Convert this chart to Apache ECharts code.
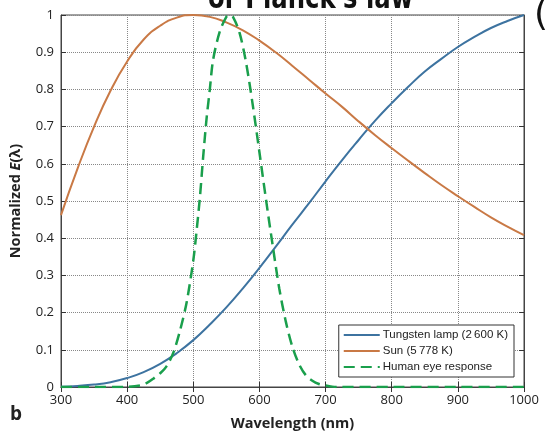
<!DOCTYPE html>
<html>
<head>
<meta charset="utf-8">
<script src="https://cdn.jsdelivr.net/npm/echarts@6/dist/echarts.min.js"></script>
<style>
  html, body { margin: 0; padding: 0; background: #fff; }
  #chart { width: 547px; height: 440px; }
</style>
</head>
<body>
<div id="chart"></div>
<script>
const chart = echarts.init(document.getElementById("chart"));

// wavelength samples (nm) for the two black-body curves
const wavelengths = [300, 325, 350, 375, 400, 425, 450, 475, 500, 525, 550, 575, 600, 625, 650,
  675, 700, 725, 750, 775, 800, 825, 850, 875, 900, 925, 950, 975, 1000];
const tungsten = [0.001, 0.003, 0.0065, 0.013, 0.024, 0.040, 0.062, 0.091, 0.126, 0.168, 0.214,
  0.265, 0.320, 0.378, 0.437, 0.494, 0.553, 0.610, 0.664, 0.716, 0.763, 0.807, 0.848, 0.882,
  0.914, 0.941, 0.965, 0.984, 1.0];
const sun = [0.462, 0.587, 0.700, 0.797, 0.875, 0.934, 0.971, 0.993, 1.0, 0.995, 0.980, 0.959,
  0.931, 0.899, 0.863, 0.826, 0.789, 0.753, 0.714, 0.677, 0.642, 0.608, 0.575, 0.543, 0.513,
  0.484, 0.456, 0.431, 0.408];

// human eye response
const eyeWavelengths = [300, 350, 400, 420, 430, 440, 450, 460, 470, 480, 490, 500, 505, 510, 515,
  520, 525, 530, 540, 550, 555, 560, 570, 580, 590, 600, 610, 620, 630, 640, 650, 660, 670, 680,
  690, 700, 710, 720, 800, 900, 1000];
const eye = [0, 0, 0.0005, 0.004, 0.011, 0.023, 0.037, 0.057, 0.093, 0.152, 0.228, 0.34, 0.42,
  0.51, 0.62, 0.72, 0.80, 0.88, 0.955, 0.995, 1.0, 0.995, 0.952, 0.870, 0.757, 0.631, 0.503,
  0.381, 0.265, 0.175, 0.107, 0.061, 0.032, 0.017, 0.008, 0.004, 0.001, 0, 0, 0, 0];

const seriesNames = ["Tungsten lamp (2\u2009600 K)", "Sun (5\u2009778 K)", "Human eye response"];

const pairs = (xs, ys) => xs.map((x, i) => [x, ys[i]]);

const tickFont = { fontFamily: "Open Sans", fontSize: 13, color: "#222" };

chart.setOption({
  animation: false,
  grid: { left: 59, right: 23, top: 15, bottom: 53, show: true, borderColor: "#444", borderWidth: 1 },
  legend: {
    orient: "vertical",
    right: 33,
    bottom: 63,
    itemWidth: 36,
    itemHeight: 12,
    itemGap: 4,
    padding: [4, 6, 4, 4],
    backgroundColor: "#fff",
    borderColor: "#333",
    borderWidth: 1,
    itemStyle: { opacity: 0 },
    textStyle: { fontFamily: "Liberation Sans", fontSize: 11.5, color: "#222", padding: [0, 0, 0, -2] },
    data: seriesNames
  },
  xAxis: [{
    type: "value",
    min: 300, max: 1000, interval: 100,
    name: "Wavelength (nm)",
    nameLocation: "middle",
    nameGap: 29,
    nameTextStyle: { fontFamily: "Open Sans", fontSize: 14.5, fontWeight: "bold", color: "#222" },
    axisLine: { lineStyle: { color: "#444" } },
    axisTick: { inside: true, length: 5, lineStyle: { color: "#333" } },
    axisLabel: Object.assign({ margin: 7, formatter: v => String(v) }, tickFont),
    splitLine: { show: true, lineStyle: { type: "dotted", color: "#888" } }
  }, {
    type: "value",
    position: "top",
    min: 300, max: 1000, interval: 100,
    axisLine: { lineStyle: { color: "#444" } },
    axisTick: { inside: true, length: 5, lineStyle: { color: "#333" } },
    axisLabel: { show: false },
    splitLine: { show: false }
  }],
  yAxis: [{
    type: "value",
    min: 0, max: 1, interval: 0.1,
    name: "Normalized {i|E}(\u03bb)",
    nameLocation: "middle",
    nameGap: 38,
    nameTextStyle: {
      fontFamily: "Open Sans", fontSize: 14.5, fontWeight: "bold", color: "#222",
      rich: { i: { fontFamily: "Open Sans", fontSize: 14.5, fontWeight: "bold", fontStyle: "italic", color: "#222" } }
    },
    axisLine: { show: true, lineStyle: { color: "#444" } },
    axisTick: { inside: true, length: 5, lineStyle: { color: "#333" } },
    axisLabel: Object.assign({ margin: 7 }, tickFont),
    splitLine: { show: true, lineStyle: { type: "dotted", color: "#888" } }
  }, {
    type: "value",
    position: "right",
    min: 0, max: 1, interval: 0.1,
    axisLine: { show: true, lineStyle: { color: "#444" } },
    axisTick: { show: true, inside: true, length: 5, lineStyle: { color: "#333" } },
    axisLabel: { show: false },
    splitLine: { show: false }
  }],
  series: [{
    name: seriesNames[0],
    type: "line",
    smooth: true,
    symbol: "none",
    data: pairs(wavelengths, tungsten),
    lineStyle: { color: "#3d73a0", width: 2 },
    itemStyle: { color: "#3d73a0" }
  }, {
    name: seriesNames[1],
    type: "line",
    smooth: true,
    symbol: "none",
    data: pairs(wavelengths, sun),
    lineStyle: { color: "#c97945", width: 2 },
    itemStyle: { color: "#c97945" }
  }, {
    name: seriesNames[2],
    type: "line",
    smooth: 0.3,
    symbol: "none",
    data: pairs(eyeWavelengths, eye),
    lineStyle: { color: "#1a9f4c", width: 2.5, type: [11, 6] },
    itemStyle: { color: "#1a9f4c" }
  }],
  graphic: [{
    type: "text",
    left: 10,
    top: 405,
    style: { text: "b", fontFamily: "Open Sans", fontSize: 19, fontWeight: "bold", fill: "#222" }
  }, {
    type: "text",
    x: 208,
    y: -16,
    scaleX: 0.76,
    style: { text: "or Planck's law", fontFamily: "DejaVu Sans", fontSize: 32, fontWeight: "bold", fill: "#111" }
  }, {
    type: "text",
    left: 534,
    top: -2,
    style: { text: "(", fontFamily: "DejaVu Sans", fontSize: 36, fill: "#111" }
  }]
});
</script>
</body>
</html>
